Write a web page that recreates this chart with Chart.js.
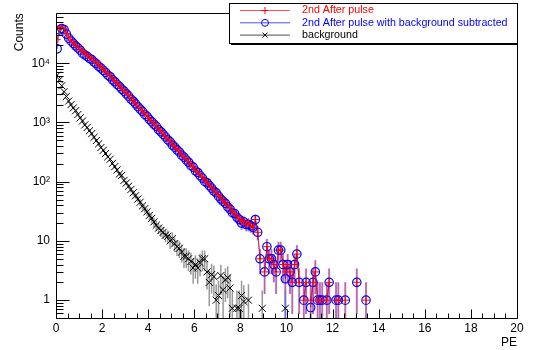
<!DOCTYPE html>
<html><head><meta charset="utf-8">
<script src="https://cdn.jsdelivr.net/npm/chart.js@4.4.1/dist/chart.umd.min.js"></script>
<style>html,body{margin:0;padding:0;background:#fff;}#wrap{width:539px;height:350px;}</style>
</head><body><div id="wrap"><canvas id="c" width="539" height="350"></canvas></div>
<script>
// PE bin centres (0.1 PE bins)
const binCenters = [
0.05,0.15,0.25,0.35,0.45,0.55,0.65,0.75,0.85,0.95,
1.05,1.15,1.25,1.35,1.45,1.55,1.65,1.75,1.85,1.95,
2.05,2.15,2.25,2.35,2.45,2.55,2.65,2.75,2.85,2.95,
3.05,3.15,3.25,3.35,3.45,3.55,3.65,3.75,3.85,3.95,
4.05,4.15,4.25,4.35,4.45,4.55,4.65,4.75,4.85,4.95,
5.05,5.15,5.25,5.35,5.45,5.55,5.65,5.75,5.85,5.95,
6.05,6.15,6.25,6.35,6.45,6.55,6.65,6.75,6.85,6.95,
7.05,7.15,7.25,7.35,7.45,7.55,7.65,7.75,7.85,7.95,
8.05,8.15,8.25,8.35,8.45,8.55,8.65,8.75,8.85,8.95,
9.05,9.15,9.25,9.35,9.45,9.55,9.65,9.75,9.85,9.95,
10.05,10.15,10.25,10.35,10.45,10.55,10.65,10.75,10.85,10.95,
11.05,11.15,11.25,11.35,11.45,11.55,11.65,11.75,11.85,11.95,
12.05,12.15,12.25,12.35,12.45,12.55,12.65,12.75,12.85,12.95,
13.05,13.15,13.25,13.35,13.45,13.55];

const afterPulse = [
25000,39000,40500,38000,32000,27500,24500,22300,20200,18600,
17000,15900,14700,13900,12800,12100,11100,10300,9300,8700,
7900,7300,6550,6150,5450,5050,4550,4200,3780,3490,
3150,2870,2560,2350,2120,1910,1730,1580,1400,1300,
1160,1055,955,875,775,712,645,582,524,482,
428,392,353,326,288,266,238,218,193,180,
157,147,131,120,106,99,88,81,72,66,
58,54,48,45,40,36,31,29,26,24,
21,22,19,20,18,17,23,14,5,0,
3,8,5,5,4,3,7,7,4,3,
4,3,2,4,6,2,0,1,2,0,
1,2,3,1,1,1,0,1,2,0,
0,1,1,0,0,1,0,0,0,0,
2,0,0,0,1,0];

const afterPulseSub = [
17500,36500,38500,37000,31000,26500,23800,21700,19700,18200,
16600,14800,13800,13100,12100,11500,10500,9800,8860,8300,
7560,7000,6290,5920,5250,4870,4390,4060,3660,3380,
3055,2786,2486,2285,2062,1859,1685,1541,1365,1269,
1133,1031,934,857,759,697,631,570,512,472,
417,383,345,318,281,260,233,213,188,176,
153,143,127,115,101,96,86,78,69.5,65,
57,51,46.5,43,37.6,34.4,30,29,25,23,
20,21,19,19,18,17,23,14,5,0,
3,8,5,5,4,3,7,7,4,2.3,
4,3,2,4,6,2,0,1,2,0,
0.75,2,3,1,1,1,0,1,2,0,
0,1,1,0,0,1,0,0,0,0,
2,0,0,0,1,0];

const background = [
6300,5250,4170,3310,2750,2300,2000,1760,1580,1365,
1200,1060,910,822,724,650,562,495,436,378,
339,299,263,240,204,180,158,135,128,105,
95,84,74,65,58,51,45,39,35,31,
27,24,21,18.4,16.5,15,14,12.5,12,10,
11,9,8,7.5,6.5,5.5,5.5,5,4.5,3.5,
4,3.5,4.3,5,5,3,2,2.7,2.5,1,
1.2,2.6,1.5,2.2,2.4,1.6,0.73,0,0.73,0.73,
1.2,0.95,0,1,0,0,0,0,0,0.73,
0,0,0,0,0,0,0,0,0,0.73];

const seriesNames = ['2nd After pulse','2nd After pulse with background subtracted','background'];
const yTickLabels = ['1','10','10\u00B2','10\u00B3','10\u2074'];
const xTickStep = 2;

const FONT = 'Liberation Sans, Arial, Helvetica, sans-serif';
const pts = arr => arr.map((v,i)=>({x:binCenters[i], y:v}));
const radiusIfPos = r => ctx => (ctx.raw && ctx.raw.y > 0) ? r : 0;

const errPlugin = {
  id:'errbars',
  beforeDatasetsDraw(chart){
    const {ctx, chartArea:a, scales:{x,y}} = chart;
    ctx.save();
    ctx.beginPath(); ctx.rect(a.left,a.top,a.right-a.left,a.bottom-a.top); ctx.clip();
    const draw = (vals, errFn, color, w) => {
      ctx.strokeStyle=color; ctx.lineWidth=w; ctx.beginPath();
      vals.forEach((v,i)=>{
        if(!(v>0)) return;
        const e = errFn(i);
        const px = x.getPixelForValue(binCenters[i]);
        const lo = v-e, hi = v+e;
        const yl = lo>y.min ? y.getPixelForValue(lo) : a.bottom;
        const yh = y.getPixelForValue(hi);
        ctx.moveTo(px,yl); ctx.lineTo(px,yh);
      });
      ctx.stroke();
    };
    draw(background, i=>Math.sqrt(0.73*background[i]), 'rgba(70,70,70,0.55)', 1.5);
    draw(afterPulseSub, i=>Math.sqrt(afterPulse[i]+(background[i]||0)), 'rgba(80,80,255,0.6)', 2);
    draw(afterPulse, i=>Math.sqrt(afterPulse[i]), 'rgba(255,60,60,0.75)', 1);
    ctx.restore();
  }
};

const framePlugin = {
  id:'frame',
  afterDatasetsDraw(chart){
    const {ctx, chartArea:a, scales:{x,y}} = chart;
    ctx.save();
    ctx.strokeStyle='#000'; ctx.lineWidth=1;
    const L=Math.round(a.left)+0.5, R=Math.round(a.right)+0.5, T=Math.round(a.top)+0.5, B=Math.round(a.bottom)+0.5;
    ctx.beginPath(); ctx.moveTo(L,T); ctx.lineTo(R,T); ctx.lineTo(R,B); ctx.lineTo(L,B); ctx.closePath(); ctx.stroke();
    ctx.beginPath();
    for(let v=0; v<=20.001; v+=0.5){
      const px=Math.round(x.getPixelForValue(v))+0.5;
      const len = (Math.abs(v/2-Math.round(v/2))<1e-6) ? 9 : 5;
      ctx.moveTo(px,B); ctx.lineTo(px,B-len);
    }
    for(let d=-1; d<=4; d++){
      for(let k=1;k<=9;k++){
        const v=k*Math.pow(10,d);
        if(v<y.min-1e-9||v>y.max) continue;
        const py=Math.round(y.getPixelForValue(v))+0.5;
        const len = k===1?13:7;
        ctx.moveTo(L,py); ctx.lineTo(L+len,py);
      }
    }
    ctx.stroke();
    ctx.restore();
  }
};

const legendPlugin = {
  id:'rootLegend',
  afterDraw(chart){
    const ctx=chart.ctx;
    ctx.save();
    ctx.fillStyle='#fff'; ctx.fillRect(229,3,288,40);
    ctx.strokeStyle='#000'; ctx.lineWidth=1; ctx.strokeRect(229.5,3.5,288,40);
    ctx.beginPath(); ctx.moveTo(231,44.5); ctx.lineTo(518,44.5); ctx.stroke();
    const colors=['#ff0000','#0000ff','#000000'];
    const lineCols=['rgba(255,0,0,0.7)','rgba(0,0,255,0.7)','rgba(0,0,0,0.7)'];
    ctx.font='10.7px '+FONT; ctx.textBaseline='middle'; ctx.textAlign='left';
    seriesNames.forEach((name,i)=>{
      const yy=10.5+12.3*i;
      ctx.strokeStyle=lineCols[i]; ctx.lineWidth=1;
      ctx.beginPath(); ctx.moveTo(240,yy); ctx.lineTo(290,yy); ctx.stroke();
      ctx.strokeStyle=colors[i];
      ctx.beginPath();
      if(i===0){ ctx.moveTo(265,yy-3.5); ctx.lineTo(265,yy+3.5); ctx.moveTo(261.5,yy); ctx.lineTo(268.5,yy); }
      else if(i===1){ ctx.moveTo(268.5,yy); ctx.arc(265,yy,3.5,0,Math.PI*2); }
      else { ctx.moveTo(262.5,yy-2.5); ctx.lineTo(267.5,yy+2.5); ctx.moveTo(267.5,yy-2.5); ctx.lineTo(262.5,yy+2.5); }
      ctx.stroke();
      ctx.fillStyle=colors[i];
      ctx.fillText(name,302,yy);
    });
    ctx.restore();
  }
};

new Chart(document.getElementById('c'), {
  type:'line',
  data:{ datasets:[
    { label:seriesNames[0], data:pts(afterPulse), order:0,
      borderColor:'rgba(255,0,0,0.7)', borderWidth:1, tension:0,
      pointStyle:'cross', pointRadius:radiusIfPos(3.5), pointBorderColor:'#ff0000', pointBorderWidth:1,
      pointBackgroundColor:'#ff0000', fill:false },
    { label:seriesNames[1], data:pts(afterPulseSub), order:1,
      borderColor:'rgba(0,0,255,0.55)', borderWidth:1, tension:0,
      pointStyle:'circle', pointRadius:radiusIfPos(4.2), pointBorderColor:'#0000ff', pointBorderWidth:1.2,
      pointBackgroundColor:'rgba(0,0,0,0)', fill:false },
    { label:seriesNames[2], data:pts(background), order:2, showLine:false,
      borderColor:'#000', borderWidth:1,
      pointStyle:'crossRot', pointRadius:radiusIfPos(5), pointBorderColor:'#000', pointBorderWidth:1, fill:false }
  ]},
  options:{
    responsive:false, animation:false, devicePixelRatio:1,
    layout:{padding:{left:0,right:22,top:6,bottom:0}},
    plugins:{legend:{display:false}, tooltip:{enabled:false}},
    scales:{
      x:{ type:'linear', min:0, max:20,
        grid:{display:false, drawTicks:false}, border:{display:false},
        ticks:{stepSize:xTickStep, color:'#000', font:{family:FONT,size:12}, padding:3, maxRotation:0, autoSkip:false},
        title:{display:true, text:'PE', align:'end', color:'#000', font:{family:FONT,size:12}, padding:{top:0,bottom:0}},
        afterFit(s){ s.height=32; } },
      y:{ type:'logarithmic', min:0.5, max:70000,
        grid:{display:false, drawTicks:false}, border:{display:false},
        ticks:{autoSkip:false, color:'#000', font:{family:FONT,size:12}, padding:6,
          callback(v){ const l=Math.log10(v); const r=Math.round(l); if(Math.abs(l-r)>1e-6||r<0||r>=yTickLabels.length) return ''; return yTickLabels[r]; } },
        title:{display:true, text:'Counts', align:'end', color:'#000', font:{family:FONT,size:12}, padding:{top:12,bottom:0}},
        afterFit(s){ s.width=56; } }
    }
  },
  plugins:[errPlugin, framePlugin, legendPlugin]
});
</script></body></html>
